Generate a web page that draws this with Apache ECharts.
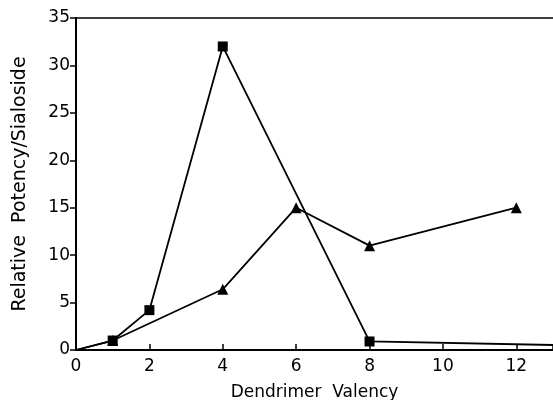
<!DOCTYPE html>
<html>
<head>
<meta charset="utf-8">
<script src="https://cdn.jsdelivr.net/npm/echarts@6/dist/echarts.min.js"></script>
<style>
  html, body { margin: 0; padding: 0; background: #fff; }
  #main { width: 553px; height: 400px; }
</style>
</head>
<body>
<div id="main"></div>
<script>
// squares series (x = valency, y = relative potency); last point runs off the right edge
const squareX = [0, 1, 2, 4, 8, 16];
const squareY = [0, 1, 4.2, 32, 0.9, 0.3];
// triangles series
const triX = [0, 1, 4, 6, 8, 12];
const triY = [0, 1, 6.4, 15, 11, 15];
const xTicks = [0, 2, 4, 6, 8, 10, 12];
const yTicks = [0, 5, 10, 15, 20, 25, 30, 35];

function toData(xs, ys, sym) {
  return xs.map((x, i) => {
    const hidden = x === 0 || x > 13;
    return hidden ? { value: [x, ys[i]], symbol: 'none' } : { value: [x, ys[i]], symbol: sym };
  });
}

const chart = echarts.init(document.getElementById('main'));
const font = 'DejaVu Sans';
chart.setOption({
  animation: false,
  grid: { left: 76, right: 0, top: 18, bottom: 50, show: false, outerBoundsMode: 'none' },
  xAxis: [{
    type: 'value', min: 0, max: 13, interval: 2,
    name: 'Dendrimer  Valency', nameLocation: 'middle', nameGap: 34,
    nameTextStyle: { fontFamily: font, fontSize: 17, color: '#000' },
    axisLine: { lineStyle: { color: '#000', width: 2 } },
    axisTick: { inside: true, length: 6, lineStyle: { color: '#000', width: 1.5 } },
    axisLabel: { fontFamily: font, fontSize: 17, color: '#000', margin: 8,
      formatter: v => xTicks.includes(v) ? String(v) : '' },
    splitLine: { show: false }
  }, {
    type: 'value', position: 'top', min: 0, max: 13,
    axisLine: { show: true, lineStyle: { color: '#000', width: 1.5 } },
    axisTick: { show: false }, axisLabel: { show: false }, splitLine: { show: false }
  }],
  yAxis: {
    type: 'value', min: 0, max: 35, interval: 5,
    name: 'Relative  Potency/Sialoside', nameLocation: 'middle', nameGap: 46,
    nameTextStyle: { fontFamily: font, fontSize: 19, color: '#000' },
    axisLine: { lineStyle: { color: '#000', width: 2 } },
    axisTick: { inside: false, length: 6, lineStyle: { color: '#000', width: 1.5 } },
    axisLabel: { fontFamily: font, fontSize: 17, color: '#000', margin: 6,
      formatter: v => yTicks.includes(v) ? String(v) : '' },
    splitLine: { show: false }
  },
  series: [
    {
      type: 'line', data: toData(squareX, squareY, 'rect'), symbolSize: 10,
      lineStyle: { color: '#000', width: 1.8 }, itemStyle: { color: '#000' }, clip: true
    },
    {
      type: 'line', data: toData(triX, triY, 'triangle'), symbolSize: 11,
      lineStyle: { color: '#000', width: 1.8 }, itemStyle: { color: '#000' }, clip: true
    }
  ]
});
</script>
</body>
</html>
